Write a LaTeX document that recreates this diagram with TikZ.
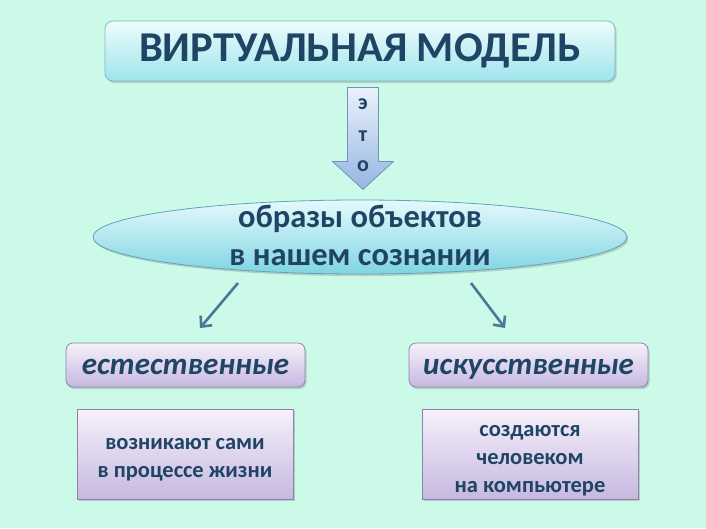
\documentclass[tikz,border=0pt]{standalone}
\usepackage{fontspec}
\setmainfont{Carlito}
\usetikzlibrary{shapes.geometric,arrows.meta,shadows,calc}
\definecolor{bgc}{RGB}{204,250,232}
\definecolor{txt}{RGB}{31,68,100}
\definecolor{ttop}{RGB}{238,252,252}
\definecolor{tbot}{RGB}{158,228,236}
\definecolor{tbord}{RGB}{120,185,195}
\definecolor{atop}{RGB}{234,242,252}
\definecolor{abot}{RGB}{150,182,226}
\definecolor{abord}{RGB}{115,145,185}
\definecolor{etop}{RGB}{228,250,252}
\definecolor{ebot}{RGB}{128,212,226}
\definecolor{ebord}{RGB}{95,165,185}
\definecolor{ptop}{RGB}{246,241,251}
\definecolor{pbot}{RGB}{198,184,224}
\definecolor{pbord}{RGB}{140,132,165}
\definecolor{arrc}{RGB}{74,120,155}
\tikzset{
  softshadow/.style={drop shadow={opacity=0.35,shadow xshift=1.5pt,shadow yshift=-2pt}},
  titlebox/.style={rounded corners=8pt, draw=tbord, line width=0.8pt, top color=ttop, bottom color=tbot,
     minimum width=510pt, minimum height=60pt, font=\fontsize{42.5}{46}\selectfont\bfseries, text=txt, softshadow},
  ellbox/.style={ellipse, draw=ebord, line width=0.8pt, top color=etop, bottom color=ebot,
     minimum width=534pt, minimum height=74pt, inner sep=0pt, softshadow},
  elltext/.style={align=center, inner sep=0pt, font=\fontsize{32.5}{37.5}\selectfont\bfseries, text=txt},
  catbox/.style={rounded corners=7pt, draw=pbord, line width=0.8pt, top color=ptop, bottom color=pbot,
     minimum width=239pt, minimum height=44pt, text height=22pt, text depth=3.5pt,
     font=\fontsize{31}{36}\selectfont\bfseries\itshape, text=txt, softshadow},
  descbox/.style={draw=pbord, line width=0.8pt, top color=ptop, bottom color=pbot,
     minimum width=216pt, minimum height=90pt, softshadow},
  desctext/.style={align=center, inner sep=0pt, font=\fontsize{22.5}{28}\selectfont\bfseries, text=txt},
  letter/.style={font=\fontsize{22}{24}\selectfont\bfseries, text=txt, inner sep=0pt},
  smallarr/.style={draw=arrc, line width=2.6pt, -{Straight Barb[length=8pt,width=15pt,line width=2.6pt]}},
}
\begin{document}
\begin{tikzpicture}[x=1pt,y=-1pt]
\fill[bgc] (0,0) rectangle (706,528);
\useasboundingbox (0,0) rectangle (706,528);

\node[titlebox] (title) at (360,51) {ВИРТУАЛЬНАЯ МОДЕЛЬ};

% big down arrow "это"
\begin{scope}[shift={(title.south)}]
\shade[top color=atop, bottom color=abot, draw=abord, line width=0.8pt]
  (-12.5,6) -- (18.5,6) -- (18.5,80) -- (33.5,80) -- (3,108) -- (-27.5,80) -- (-12.5,80) -- cycle;
\node[letter] (l1) at (3,23) {э};
\node[letter] (l2) at (3,55) {т};
\node[letter] (l3) at (3,85) {о};
\end{scope}

\node[ellbox] (ell) at (360,237) {};
\node[elltext] (ellt) at ($(ell.center)+(0,-1.5)$) {образы объектов\\в нашем сознании};

\node[catbox] (nat) at (185.5,365) {естественные};
\node[catbox] (art) at (528.5,365) {искусственные};

\node[descbox] (natd) at (185,454) {};
\node[desctext] (natdt) at ($(natd.center)+(0,6)$) {возникают сами\\в процессе жизни};
\node[descbox] (artd) at (530,454) {};
\node[desctext] (artdt) at ($(artd.center)+(0,6.5)$) {создаются\\человеком\\на компьютере};

\coordinate (ls) at (238,283);
\coordinate (le) at (200,328);
\coordinate (rs) at (471,283);
\coordinate (re) at (505,328);
\draw[smallarr] (ls) -- (le);
\draw[smallarr] (rs) -- (re);
\end{tikzpicture}
\end{document}
